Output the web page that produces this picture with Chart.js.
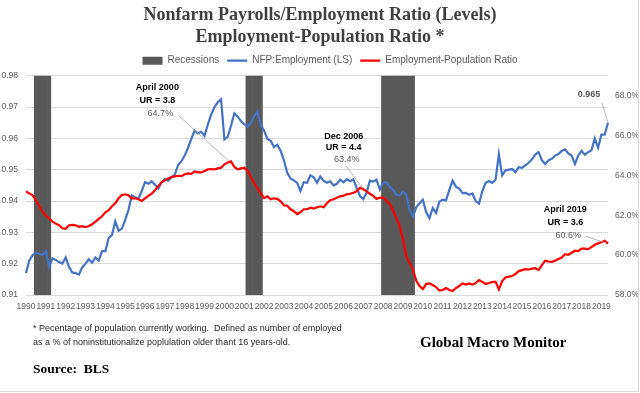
<!DOCTYPE html>
<html>
<head>
<meta charset="utf-8">
<title>Nonfarm Payrolls/Employment Ratio</title>
<script src="https://cdn.jsdelivr.net/npm/chart.js@4.4.1/dist/chart.umd.min.js"></script>
<style>
  html, body { margin: 0; padding: 0; background: #fff; }
  #wrap { position: relative; width: 640px; height: 393px; overflow: hidden; }
  #frame { position: absolute; left: 0; top: 0; width: 638px; height: 391px;
           border-right: 1px solid #d9d9d9; border-bottom: 1px solid #d9d9d9; pointer-events: none; }
  .note { position: absolute; left: 33px; top: 321px; font: 9px/14px "Liberation Sans", Arial, sans-serif;
          color: #262626; white-space: pre; }
  .brand { position: absolute; left: 420px; top: 333px; font: bold 15px/18px "Liberation Serif", "Times New Roman", serif;
           color: #000; }
  .source { position: absolute; left: 33px; top: 361px; font: bold 13.5px/16px "Liberation Serif", "Times New Roman", serif;
            color: #000; white-space: pre; }
</style>
</head>
<body>
<div id="wrap">
  <canvas id="chart" width="640" height="393"></canvas>
  <div class="note">* Pecentage of population currently working.  Defined as number of employed
as a % of noninstitutionalize poplulation older thant 16 years-old.</div>
  <div class="brand">Global Macro Monitor</div>
  <div class="source">Source:  BLS</div>
  <div id="frame"></div>
</div>
<script>
// every other month, Jan 1990 .. May 2019
const firstYear = 1990;
const months = ['01', '03', '05', '07', '09', '11'];

// NFP / household employment (left scale)
const nfpRatio = [
  0.9170, 0.9210, 0.9227, 0.9235, 0.9232, 0.9228,
  0.9240, 0.9190, 0.9217, 0.9212, 0.9205, 0.9200,
  0.9220, 0.9190, 0.9172, 0.9170, 0.9165, 0.9188,
  0.9200, 0.9214, 0.9203, 0.9220, 0.9210, 0.9240,
  0.9240, 0.9282, 0.9292, 0.9335, 0.9305, 0.9312,
  0.9340, 0.9372, 0.9418, 0.9412, 0.9408, 0.9432,
  0.9460, 0.9455, 0.9463, 0.9452, 0.9440, 0.9460,
  0.9470, 0.9465, 0.9476, 0.9484, 0.9515, 0.9527,
  0.9545, 0.9570, 0.9598, 0.9625, 0.9616, 0.9621,
  0.9608, 0.9645, 0.9676, 0.9700, 0.9715, 0.9724,
  0.9597, 0.9605, 0.9640, 0.9680, 0.9670, 0.9655,
  0.9645, 0.9637, 0.9650, 0.9670, 0.9685, 0.9642,
  0.9625, 0.9598, 0.9592, 0.9572, 0.9580, 0.9560,
  0.9530, 0.9490, 0.9472, 0.9466, 0.9458, 0.9432,
  0.9460, 0.9458, 0.9482, 0.9476, 0.9458, 0.9478,
  0.9465, 0.9458, 0.9463, 0.9450, 0.9455, 0.9468,
  0.9460, 0.9470, 0.9463, 0.9469, 0.9442, 0.9416,
  0.9406, 0.9427, 0.9465, 0.9462, 0.9468, 0.9437,
  0.9458, 0.9460, 0.9445, 0.9435, 0.9420, 0.9418,
  0.9430, 0.9420, 0.9372, 0.9350, 0.9380, 0.9393,
  0.9404, 0.9365, 0.9345, 0.9378, 0.9362, 0.9398,
  0.9404, 0.9402, 0.9435, 0.9465, 0.9446, 0.9440,
  0.9425, 0.9426, 0.9420, 0.9424, 0.9400, 0.9392,
  0.9432, 0.9458, 0.9464, 0.9458, 0.9468, 0.9550,
  0.9482, 0.9498, 0.9500, 0.9502, 0.9492, 0.9508,
  0.9506, 0.9514, 0.9522, 0.9533, 0.9548, 0.9556,
  0.9530, 0.9518, 0.9530, 0.9535, 0.9545, 0.9550,
  0.9560, 0.9565, 0.9552, 0.9545, 0.9518, 0.9545,
  0.9560, 0.9548, 0.9556, 0.9562, 0.9600, 0.9570,
  0.9612, 0.9612, 0.9650
];

// employment-population ratio, % (right scale)
const empPop = [
  63.20, 63.10, 63.00, 62.75, 62.45, 62.18,
  61.98, 61.85, 61.68, 61.58, 61.50, 61.35,
  61.32, 61.50, 61.52, 61.50, 61.42, 61.45,
  61.40, 61.46, 61.55, 61.68, 61.82, 61.95,
  62.15, 62.25, 62.45, 62.60, 62.85, 63.02,
  63.05, 63.00, 62.85, 62.85, 62.80, 62.72,
  62.85, 62.97, 63.08, 63.25, 63.46, 63.65,
  63.75, 63.85, 63.92, 63.95, 63.98, 63.96,
  64.06, 64.10, 64.08, 64.20, 64.15, 64.15,
  64.22, 64.30, 64.32, 64.30, 64.35, 64.38,
  64.55, 64.65, 64.70, 64.42, 64.30, 64.35,
  64.38, 64.22, 63.92, 63.60, 63.35, 63.10,
  62.86, 62.95, 62.80, 62.85, 62.82, 62.70,
  62.50, 62.48, 62.30, 62.20, 62.06, 62.15,
  62.30, 62.30, 62.38, 62.33, 62.40, 62.45,
  62.40, 62.60, 62.75, 62.80, 62.88, 62.95,
  62.98, 63.05, 63.08, 63.13, 63.20, 63.38,
  63.30, 63.20, 63.08, 62.97, 62.82, 62.88,
  62.88, 62.72, 62.57, 62.25, 61.85, 61.45,
  60.80, 59.95, 59.60, 59.30, 58.72, 58.45,
  58.30, 58.55, 58.58, 58.50, 58.40, 58.22,
  58.25, 58.35, 58.25, 58.20, 58.35, 58.45,
  58.58, 58.52, 58.58, 58.52, 58.60, 58.75,
  58.65, 58.55, 58.60, 58.65, 58.67, 58.28,
  58.70, 58.88, 58.92, 58.95, 59.05, 59.20,
  59.25, 59.30, 59.28, 59.32, 59.35, 59.25,
  59.50, 59.72, 59.68, 59.66, 59.72, 59.80,
  59.88, 60.05, 60.02, 60.12, 60.22, 60.20,
  60.33, 60.33, 60.30, 60.40, 60.52, 60.60,
  60.65, 60.72, 60.58
];

// NBER recessions (first and last period shaded)
const recessions = [
  ['1990-07', '1991-03'],
  ['2001-03', '2001-11'],
  ['2008-01', '2009-07']
];

const leftTicks = { min: 0.91, max: 0.98, step: 0.01 };
const rightTicks = { min: 58, max: 69, step: 2, top: 68 };

const callouts = [
  { date: '2000-04', axis: 'y2', value: 64.7, head: ['April 2000', 'UR = 3.8'], text: '64.7%' },
  { date: '2006-12', axis: 'y2', value: 63.4, head: ['Dec 2006', 'UR = 4.4'], text: '63.4%' },
  { date: '2019-04', axis: 'y2', value: 60.6, head: ['April 2019', 'UR = 3.6'], text: '60.6%' },
  { date: '2019-05', axis: 'y', value: 0.965, head: [], text: '0.965' }
];

// category labels
const labels = [];
for (let y = firstYear; labels.length < nfpRatio.length; y++) {
  months.forEach(m => { if (labels.length < nfpRatio.length) labels.push(y + '-' + m); });
}

const dateIndex = d => (Number(d.slice(0, 4)) - firstYear) * 6 + (Number(d.slice(5, 7)) - 1) / 2;

const recessionBars = labels.map(l =>
  recessions.some(r => l >= r[0] && l <= r[1]) ? leftTicks.max : null);

// text placement for the callouts, relative to the point they describe
const calloutLayout = [
  { dx: -72, dy: -48, gap: 13, lx: -51, ly: -46 },
  { dx: -18, dy: -28, gap: 11.5, lx: -15, ly: -21 },
  { dx: -41, dy: -8, gap: 13, lx: -21, ly: -7 },
  { dx: -19, dy: -28, gap: 0, lx: -6, ly: -20 }
];

const calloutPlugin = {
  id: 'callouts',
  afterDatasetsDraw(chart) {
    const ctx = chart.ctx;
    ctx.save();
    callouts.forEach((c, i) => {
      const pos = calloutLayout[i];
      const ax = chart.scales.x.getPixelForValue(dateIndex(c.date));
      const ay = chart.scales[c.axis].getPixelForValue(c.value);
      ctx.strokeStyle = '#a6a6a6';
      ctx.lineWidth = 0.8;
      ctx.beginPath();
      ctx.moveTo(ax + pos.lx, ay + pos.ly);
      ctx.lineTo(ax, ay);
      ctx.stroke();
      ctx.textAlign = 'center';
      ctx.textBaseline = 'middle';
      const tx = ax + pos.dx, ty = ay + pos.dy;
      ctx.fillStyle = '#000';
      ctx.font = 'bold 9px "Liberation Sans", Arial, sans-serif';
      c.head.forEach((h, k) => {
        ctx.fillText(h, tx, ty - (c.head.length - k) * pos.gap);
      });
      ctx.fillStyle = '#595959';
      ctx.font = (c.head.length ? '' : 'bold ') + '9px "Liberation Sans", Arial, sans-serif';
      ctx.fillText(c.text, tx + (c.head.length ? 3 : 0), ty);
    });
    ctx.restore();
  }
};

const legendShift = {
  id: 'legendShift',
  afterLayout(chart) {
    chart.legend.left += 10;
    chart.legend.right += 10;
  }
};

const tickFont = { family: '"Liberation Sans", Arial, sans-serif', size: 8.5 };
const yearFont = { family: '"Liberation Sans Narrow", "Arial Narrow", "Liberation Sans", sans-serif', size: 8.5 };

new Chart(document.getElementById('chart'), {
  type: 'line',
  data: {
    labels: labels,
    datasets: [
      {
        type: 'bar',
        label: 'Recessions',
        data: recessionBars,
        yAxisID: 'y',
        backgroundColor: '#595959',
        borderWidth: 0,
        barPercentage: 1,
        categoryPercentage: 1,
        pointStyle: 'rect',
        order: 3
      },
      {
        label: 'NFP:Employment (LS)',
        data: nfpRatio,
        yAxisID: 'y',
        borderColor: '#4472c4',
        backgroundColor: '#4472c4',
        borderWidth: 2.2,
        pointRadius: 0,
        pointStyle: 'line',
        tension: 0,
        order: 2
      },
      {
        label: 'Employment-Population Ratio',
        data: empPop,
        yAxisID: 'y2',
        borderColor: '#ff0000',
        backgroundColor: '#ff0000',
        borderWidth: 2.2,
        pointRadius: 0,
        pointStyle: 'line',
        tension: 0,
        order: 1
      }
    ]
  },
  options: {
    responsive: false,
    animation: false,
    layout: { padding: { left: 0, right: 0, top: 0, bottom: 80 } },
    plugins: {
      tooltip: { enabled: false },
      title: {
        display: true,
        text: ['Nonfarm Payrolls/Employment Ratio (Levels)', 'Employment-Population Ratio *'],
        color: '#3f3f3f',
        font: { family: '"Liberation Serif", "Times New Roman", serif', size: 18, weight: 'bold', lineHeight: 1.2 },
        padding: { top: 4.5, bottom: 0 }
      },
      legend: {
        position: 'top',
        labels: {
          usePointStyle: true,
          pointStyleWidth: 20,
          boxHeight: 8,
          padding: 8,
          color: '#595959',
          font: { family: '"Liberation Sans", Arial, sans-serif', size: 10 },
          sort: (a, b) => a.datasetIndex - b.datasetIndex
        }
      }
    },
    scales: {
      x: {
        type: 'category',
        offset: false,
        grid: { display: false, offset: false, drawTicks: false },
        border: { display: false },
        ticks: {
          autoSkip: false,
          maxRotation: 0,
          minRotation: 0,
          padding: 7,
          color: '#595959',
          font: yearFont,
          callback: function (val) {
            const l = this.getLabelForValue(val);
            return l.endsWith('-01') ? l.slice(0, 4) : null;
          }
        },
        afterFit: s => { s.height = 18; }
      },
      y: {
        position: 'left',
        min: leftTicks.min,
        max: leftTicks.max,
        grid: { color: '#d9d9d9', lineWidth: 1, drawTicks: false },
        border: { display: false },
        ticks: {
          stepSize: leftTicks.step,
          padding: 8,
          color: '#595959',
          font: tickFont,
          callback: v => v.toFixed(2)
        },
        afterFit: s => { s.width = 26; }
      },
      y2: {
        position: 'right',
        min: rightTicks.min,
        max: rightTicks.max,
        grid: { display: false, drawTicks: false },
        border: { display: false },
        ticks: {
          stepSize: rightTicks.step,
          padding: 7,
          color: '#595959',
          font: tickFont,
          callback: v => v.toFixed(1) + '%'
        },
        afterBuildTicks: s => { s.ticks = s.ticks.filter(t => t.value <= rightTicks.top); },
        afterFit: s => { s.width = 32; }
      }
    }
  },
  plugins: [calloutPlugin, legendShift]
});
</script>
</body>
</html>
